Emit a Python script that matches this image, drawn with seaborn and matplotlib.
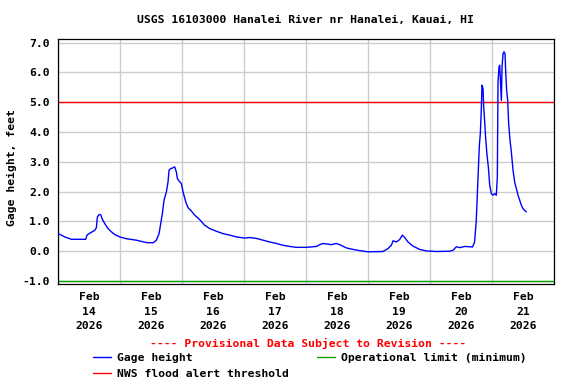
# Grafico altezza idrometrica - Hanalei River (USGS 16103000)
# ricostruzione del grafico a 7 giorni con soglie

import pandas as pd
import numpy as np
import matplotlib
matplotlib.use("Agg")
import matplotlib.pyplot as plt
import matplotlib.dates as mdates
from matplotlib.lines import Line2D
import seaborn as sns

# dati
titolo = "USGS 16103000 Hanalei River nr Hanalei, Kauai, HI"
inizio = pd.Timestamp("2026-02-14 00:00")
fine = pd.Timestamp("2026-02-22 00:00")

# giorni trascorsi da Feb 14 00:00
giorni = [
    0.000, 0.054, 0.108, 0.189, 0.216, 0.447, 0.468, 0.500, 0.549, 0.592,
    0.619, 0.635, 0.662, 0.689, 0.716, 0.753, 0.807, 0.861, 0.915, 0.995,
    1.103, 1.264, 1.425, 1.533, 1.587, 1.630, 1.656, 1.683, 1.710, 1.748,
    1.775, 1.791, 1.818, 1.855, 1.882, 1.909, 1.925, 1.963, 1.990, 2.017,
    2.060, 2.097, 2.151, 2.205, 2.285, 2.366, 2.447, 2.554, 2.662, 2.769,
    2.877, 3.011, 3.092, 3.199, 3.307, 3.415, 3.522, 3.630, 3.737, 3.845,
    4.006, 4.167, 4.221, 4.275, 4.409, 4.490, 4.544, 4.651, 4.759, 4.866,
    5.000, 5.242, 5.323, 5.377, 5.404, 5.457, 5.511, 5.554, 5.592, 5.645,
    5.726, 5.834, 5.941, 6.103, 6.318, 6.371, 6.425, 6.479, 6.560, 6.640,
    6.685, 6.718, 6.745, 6.759, 6.780, 6.796, 6.812, 6.828, 6.839, 6.855,
    6.866, 6.882, 6.898, 6.920, 6.941, 6.963, 6.990, 7.016, 7.044, 7.070,
    7.086, 7.097, 7.113, 7.124, 7.140, 7.151, 7.162, 7.178, 7.194, 7.210,
    7.221, 7.236, 7.253, 7.269, 7.291, 7.312, 7.339, 7.366, 7.393, 7.420,
    7.447, 7.474, 7.500, 7.527, 7.554,
]

# altezza idrometrica (feet)
altezza = [
    0.59, 0.54, 0.48, 0.42, 0.40, 0.40, 0.54, 0.59, 0.65, 0.70,
    0.79, 1.15, 1.23, 1.22, 1.07, 0.93, 0.76, 0.65, 0.56, 0.48,
    0.42, 0.37, 0.29, 0.28, 0.37, 0.59, 0.93, 1.26, 1.71, 1.99,
    2.33, 2.72, 2.77, 2.80, 2.83, 2.66, 2.44, 2.33, 2.27, 1.99,
    1.66, 1.46, 1.35, 1.21, 1.06, 0.87, 0.76, 0.67, 0.59, 0.54,
    0.48, 0.44, 0.46, 0.43, 0.37, 0.31, 0.26, 0.20, 0.16, 0.13,
    0.13, 0.16, 0.22, 0.26, 0.22, 0.26, 0.22, 0.11, 0.06, 0.02,
    -0.02, -0.01, 0.09, 0.20, 0.35, 0.31, 0.39, 0.54, 0.46, 0.31,
    0.17, 0.06, 0.01, -0.01, 0.00, 0.03, 0.15, 0.12, 0.16, 0.15,
    0.14, 0.30, 0.98, 1.69, 2.81, 3.55, 3.95, 4.79, 5.57, 5.46,
    4.84, 4.34, 3.78, 3.22, 2.83, 2.21, 1.93, 1.88, 1.93, 1.88,
    2.49, 5.68, 6.18, 6.24, 5.51, 5.06, 6.18, 6.63, 6.69, 6.63,
    6.02, 5.40, 5.06, 4.28, 3.72, 3.33, 2.72, 2.32, 2.10, 1.88,
    1.71, 1.54, 1.43, 1.37, 1.32,
]

soglia_nws = 5.0          # NWS flood alert threshold
limite_operativo = -1.0   # operational limit (minimum)
tick_y = [-1.0, 0.0, 1.0, 2.0, 3.0, 4.0, 5.0, 6.0, 7.0]

# colori
BLU = "#0000ff"
ROSSO = "#ff0000"
VERDE = "#00a000"
GRIGIO = "#cccccc"
DIM = 8.2

# stile (dopo set_theme, altrimenti viene sovrascritto)
sns.set_theme(style="white")
plt.rcParams["font.family"] = ["DejaVu Sans Mono"]
plt.rcParams["font.weight"] = "bold"
plt.rcParams["font.size"] = DIM
plt.rcParams["xtick.labelsize"] = DIM
plt.rcParams["ytick.labelsize"] = DIM
plt.rcParams["axes.labelsize"] = DIM
plt.rcParams["axes.labelweight"] = "bold"
plt.rcParams["legend.fontsize"] = DIM
plt.rcParams["text.color"] = "black"
plt.rcParams["axes.labelcolor"] = "black"
plt.rcParams["xtick.color"] = "black"
plt.rcParams["ytick.color"] = "black"

df = pd.DataFrame({
    "tempo": inizio + pd.to_timedelta(giorni, unit="D"),
    "altezza": altezza,
})

fig = plt.figure(figsize=(5.76, 3.84), dpi=100)
ax = fig.add_axes([58 / 576, 1 - 284 / 384, (554 - 58) / 576, (284 - 39) / 384])

# soglie orizzontali
ax.axhline(soglia_nws, color=ROSSO, lw=1.0, zorder=2)
ax.axhline(limite_operativo, color=VERDE, lw=1.0, zorder=2)

# serie principale
sns.lineplot(data=df, x="tempo", y="altezza", color=BLU, lw=1.0,
             estimator=None, ax=ax, zorder=3)

ax.set_xlim(inizio, fine)
ax.set_ylim(-1.1, 7.12)

# asse x: etichette a mezzogiorno, griglia a mezzanotte
mezzogiorni = pd.date_range(inizio + pd.Timedelta(hours=12), periods=8, freq="D")
ax.set_xticks(mezzogiorni, labels=[t.strftime("%b\n%d\n%Y") for t in mezzogiorni],
              linespacing=1.55)
ax.xaxis.set_minor_locator(mdates.DayLocator())
ax.set_yticks(tick_y)
ax.yaxis.set_major_formatter(plt.FormatStrFormatter("%.1f"))

ax.tick_params(axis="both", which="both", length=0)
ax.tick_params(axis="x", pad=6)
ax.tick_params(axis="y", pad=6)

ax.grid(False)
ax.xaxis.grid(True, which="minor", color=GRIGIO, lw=1.0)
ax.yaxis.grid(True, which="major", color=GRIGIO, lw=1.0)
ax.set_axisbelow(True)

for lato in ax.spines.values():
    lato.set_color("black")
    lato.set_linewidth(0.9)

ax.set_xlabel("")
ax.set_ylabel("Gage height, feet")
ax.yaxis.set_label_coords(-0.083, 0.476)

# titolo e nota provvisoria
fig.text(305 / 576, 1 - 20 / 384, titolo, ha="center", va="center")
fig.text(308 / 576, 1 - 343 / 384,
         "---- Provisional Data Subject to Revision ----",
         color=ROSSO, ha="center", va="center")

# legenda sotto il grafico
maniglie = [
    Line2D([], [], color=BLU, lw=1.0),
    Line2D([], [], color=ROSSO, lw=1.0),
    Line2D([], [], color=VERDE, lw=1.0),
]
etichette = ["Gage height", "NWS flood alert threshold", "Operational limit (minimum)"]
fig.legend(maniglie, etichette, ncol=2, loc="upper left",
           bbox_to_anchor=(93 / 576, 1 - 353 / 384),
           frameon=False, handlelength=1.55, handletextpad=0.55,
           columnspacing=2.5, labelspacing=0.5, borderpad=0, borderaxespad=0)

plt.savefig("out.png", dpi=100)
plt.close()
